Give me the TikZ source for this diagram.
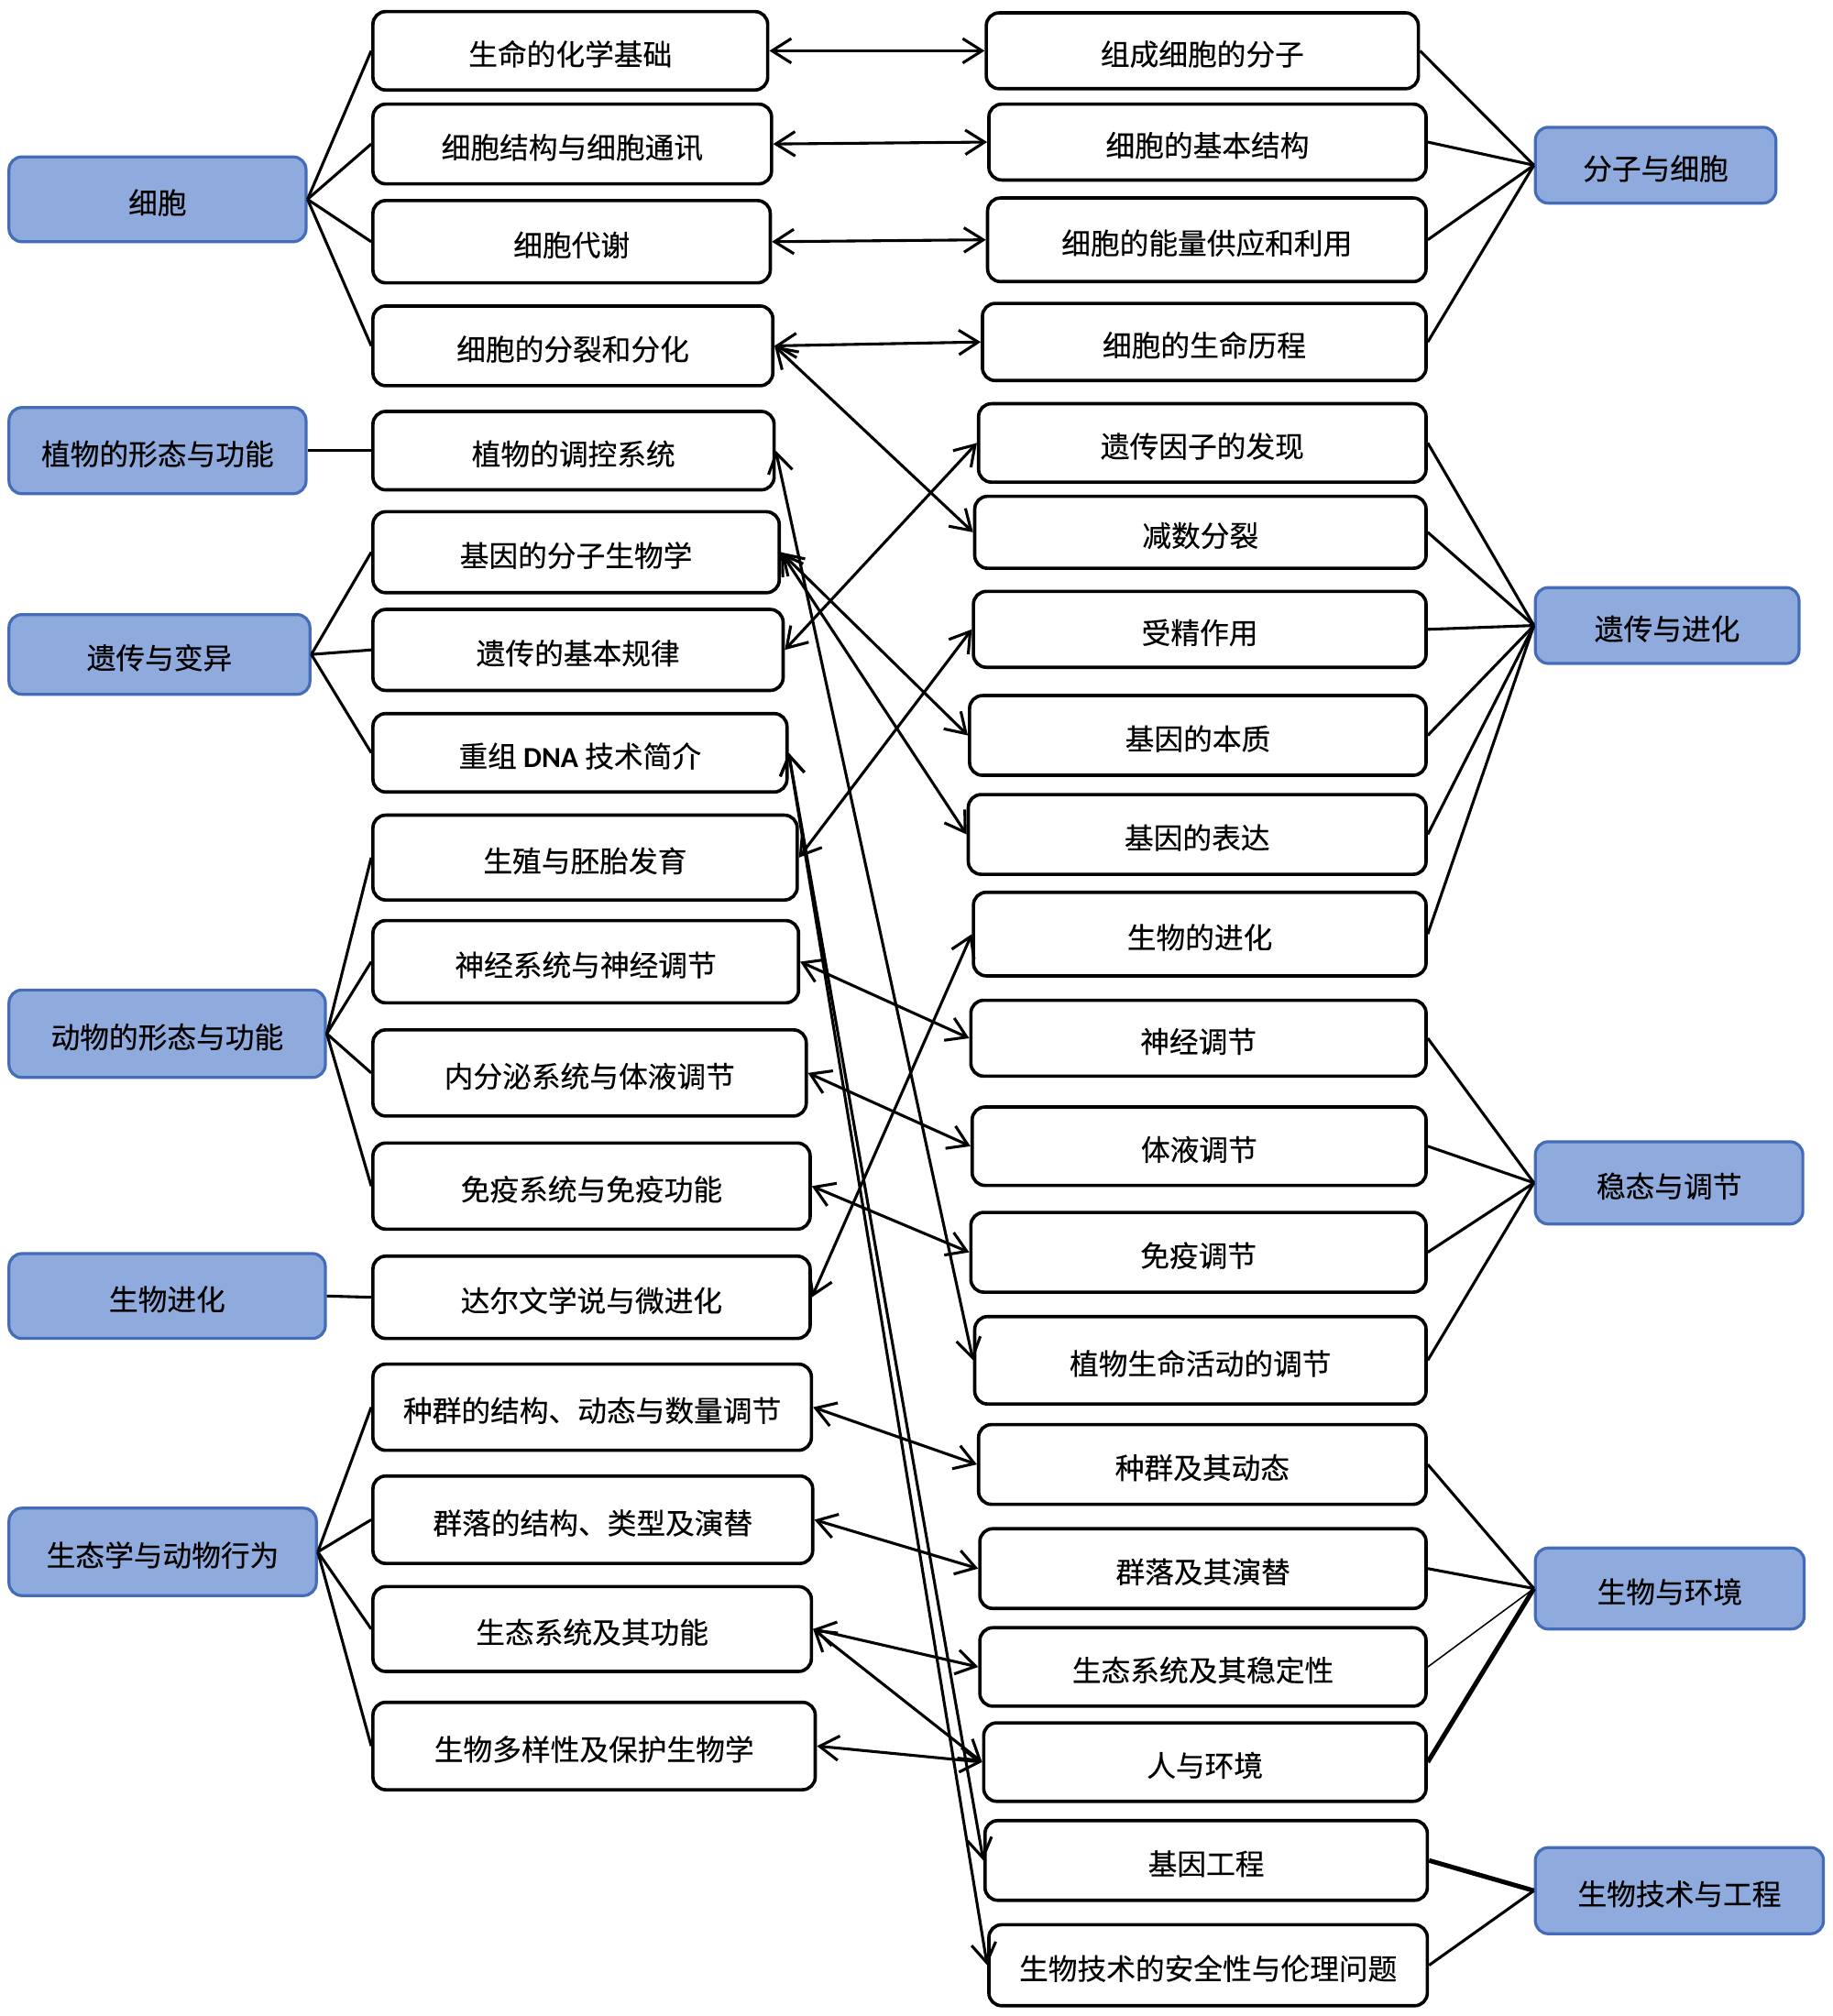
\documentclass[tikz,border=0pt]{standalone}
\usepackage{fontspec}
\setmainfont{Noto Sans CJK SC}[FakeBold=0.3]
\newfontfamily\dnafont{Carlito}
\usetikzlibrary{arrows.meta}
\definecolor{bfill}{RGB}{143,170,220}
\definecolor{bline}{RGB}{68,108,185}
\begin{document}
\begin{tikzpicture}[x=1pt,y=-1pt,
 txt/.style={inner sep=0pt, font=\fontsize{22.6}{26}\selectfont, text height=25pt, text depth=2.7pt},
 lb/.style={txt, draw=bline, fill=bfill, line width=2.3pt, rounded corners=10pt},
 wb/.style={txt, draw=black, fill=white, line width=2.6pt, rounded corners=10pt},
 tree/.style={line width=2.2pt},
 link/.style={line width=2.2pt, {Straight Barb[length=15pt,width=19pt]}-{Straight Barb[length=15pt,width=19pt]}},
]
\useasboundingbox (0,0) rectangle (1425,1568);
\fill[white] (0,0) rectangle (1425,1568);
% left blue
\node[lb, minimum width=231pt, minimum height=66pt] (c1) at (122.5,155) {细胞};
\node[lb, minimum width=231pt, minimum height=67pt] (c2) at (122.5,350.5) {植物的形态与功能};
\node[lb, minimum width=234pt, minimum height=62pt] (c3) at (124,509) {遗传与变异};
\node[lb, minimum width=246pt, minimum height=68pt] (c4) at (130,804) {动物的形态与功能};
\node[lb, minimum width=246pt, minimum height=66pt] (c5) at (130,1008) {生物进化};
\node[lb, minimum width=239pt, minimum height=68pt] (c6) at (126.5,1207) {生态学与动物行为};
% left white
\node[wb, minimum width=307pt, minimum height=61pt] (a1) at (443.5,39.5) {生命的化学基础};
\node[wb, minimum width=310pt, minimum height=62pt] (a2) at (445,112) {细胞结构与细胞通讯};
\node[wb, minimum width=309pt, minimum height=64pt] (a3) at (444.5,188) {细胞代谢};
\node[wb, minimum width=311pt, minimum height=62pt] (a4) at (445.5,269) {细胞的分裂和分化};
\node[wb, minimum width=312pt, minimum height=61pt] (a5) at (446,350.5) {植物的调控系统};
\node[wb, minimum width=316pt, minimum height=63pt] (a6) at (448,429.5) {基因的分子生物学};
\node[wb, minimum width=319pt, minimum height=63pt] (a7) at (449.5,505.5) {遗传的基本规律};
\node[wb, minimum width=322pt, minimum height=61pt] (a8) at (451,585.5) {重组 {\dnafont\bfseries DNA} 技术简介};
\node[wb, minimum width=330pt, minimum height=66pt] (a9) at (455,667) {生殖与胚胎发育};
\node[wb, minimum width=331pt, minimum height=64pt] (a10) at (455.5,748) {神经系统与神经调节};
\node[wb, minimum width=337pt, minimum height=67pt] (a11) at (458.5,834.5) {内分泌系统与体液调节};
\node[wb, minimum width=340pt, minimum height=67pt] (a12) at (460,922.5) {免疫系统与免疫功能};
\node[wb, minimum width=340pt, minimum height=64pt] (a13) at (460,1009) {达尔文学说与微进化};
\node[wb, minimum width=341pt, minimum height=67pt] (a14) at (460.5,1094.5) {种群的结构、动态与数量调节};
\node[wb, minimum width=342pt, minimum height=68pt] (a15) at (461,1182) {群落的结构、类型及演替};
\node[wb, minimum width=341pt, minimum height=66pt] (a16) at (460.5,1267) {生态系统及其功能};
\node[wb, minimum width=344pt, minimum height=68pt] (a17) at (462,1358) {生物多样性及保护生物学};
% right white
\node[wb, minimum width=336pt, minimum height=59pt] (b1) at (935,39.5) {组成细胞的分子};
\node[wb, minimum width=340pt, minimum height=59pt] (b2) at (939,110.5) {细胞的基本结构};
\node[wb, minimum width=341pt, minimum height=65pt] (b3) at (938.5,186.5) {细胞的能量供应和利用};
\node[wb, minimum width=345pt, minimum height=60pt] (b4) at (936.5,266) {细胞的生命历程};
\node[wb, minimum width=348pt, minimum height=61pt] (b5) at (935,344.5) {遗传因子的发现};
\node[wb, minimum width=351pt, minimum height=56pt] (b6) at (933.5,414) {减数分裂};
\node[wb, minimum width=352pt, minimum height=59pt] (b7) at (933,489.5) {受精作用};
\node[wb, minimum width=355pt, minimum height=62pt] (b8) at (931.5,572) {基因的本质};
\node[wb, minimum width=356pt, minimum height=62pt] (b9) at (931,649) {基因的表达};
\node[wb, minimum width=352pt, minimum height=65pt] (b10) at (933,726.5) {生物的进化};
\node[wb, minimum width=354pt, minimum height=59pt] (b11) at (932,807.5) {神经调节};
\node[wb, minimum width=353pt, minimum height=61pt] (b12) at (932.5,891.5) {体液调节};
\node[wb, minimum width=354pt, minimum height=62pt] (b13) at (932,974) {免疫调节};
\node[wb, minimum width=351pt, minimum height=68pt] (b14) at (933.5,1058) {植物生命活动的调节};
\node[wb, minimum width=348pt, minimum height=62pt] (b15) at (935,1139) {种群及其动态};
\node[wb, minimum width=347pt, minimum height=62pt] (b16) at (935.5,1220) {群落及其演替};
\node[wb, minimum width=347pt, minimum height=61pt] (b17) at (935.5,1296.5) {生态系统及其稳定性};
\node[wb, minimum width=344pt, minimum height=61pt] (b18) at (937,1370.5) {人与环境};
\node[wb, minimum width=344pt, minimum height=62pt] (b19) at (938,1447) {基因工程};
\node[wb, minimum width=341pt, minimum height=63pt] (b20) at (939.5,1528.5) {生物技术的安全性与伦理问题};
% right blue
\node[lb, minimum width=187pt, minimum height=59pt] (r1) at (1287.5,128.5) {分子与细胞};
\node[lb, minimum width=205pt, minimum height=59pt] (r2) at (1296.5,486.5) {遗传与进化};
\node[lb, minimum width=208pt, minimum height=64pt] (r3) at (1298,920) {稳态与调节};
\node[lb, minimum width=209pt, minimum height=63pt] (r4) at (1298.5,1235.5) {生物与环境};
\node[lb, minimum width=224pt, minimum height=67pt] (r5) at (1306,1470.5) {生物技术与工程};
% left trees
\foreach \t in {a1,a2,a3,a4} \draw[tree] (c1.east) -- (\t.west);
\draw[tree] (c2.east) -- (a5.west);
\foreach \t in {a6,a7,a8} \draw[tree] (c3.east) -- (\t.west);
\foreach \t in {a9,a10,a11,a12} \draw[tree] (c4.east) -- (\t.west);
\draw[tree] (c5.east) -- (a13.west);
\foreach \t in {a14,a15,a16,a17} \draw[tree] (c6.east) -- (\t.west);
% right trees
\foreach \t in {b1,b2,b3,b4} \draw[tree] (\t.east) -- (r1.west);
\foreach \t in {b5,b6,b7,b8,b9,b10} \draw[tree] (\t.east) -- (r2.west);
\foreach \t in {b11,b12,b13,b14} \draw[tree] (\t.east) -- (r3.west);
\foreach \t in {b15,b16} \draw[tree] (\t.east) -- (r4.west);
\draw[line width=1.1pt] (b17.east) -- (r4.west);
\draw[line width=3.6pt] (b18.east) -- (r4.west);
\draw[line width=3.6pt] (b19.east) -- (r5.west);
\draw[tree] (b20.east) -- (r5.west);
% links
\draw[link] (a1.east) -- (b1.west);
\draw[link] (a2.east) -- (b2.west);
\draw[link] (a3.east) -- (b3.west);
\draw[link] (a4.east) -- (b4.west);
\draw[link] (a4.east) -- (b6.west);
\draw[link] (a5.east) -- (b14.west);
\draw[link] (a6.east) -- (b8.west);
\draw[link] (a6.east) -- (b9.west);
\draw[link] (a7.east) -- (b5.west);
\draw[link] (a8.east) -- (b19.west);
\draw[link] (a8.east) -- (b20.west);
\draw[link] (a9.east) -- (b7.west);
\draw[link] (a10.east) -- (b11.west);
\draw[link] (a11.east) -- (b12.west);
\draw[link] (a12.east) -- (b13.west);
\draw[link] (a13.east) -- (b10.west);
\draw[link] (a14.east) -- (b15.west);
\draw[link] (a15.east) -- (b16.west);
\draw[link] (a16.east) -- (b17.west);
\draw[link] (a16.east) -- (b18.west);
\draw[link] (a17.east) -- (b18.west);
\end{tikzpicture}
\end{document}
